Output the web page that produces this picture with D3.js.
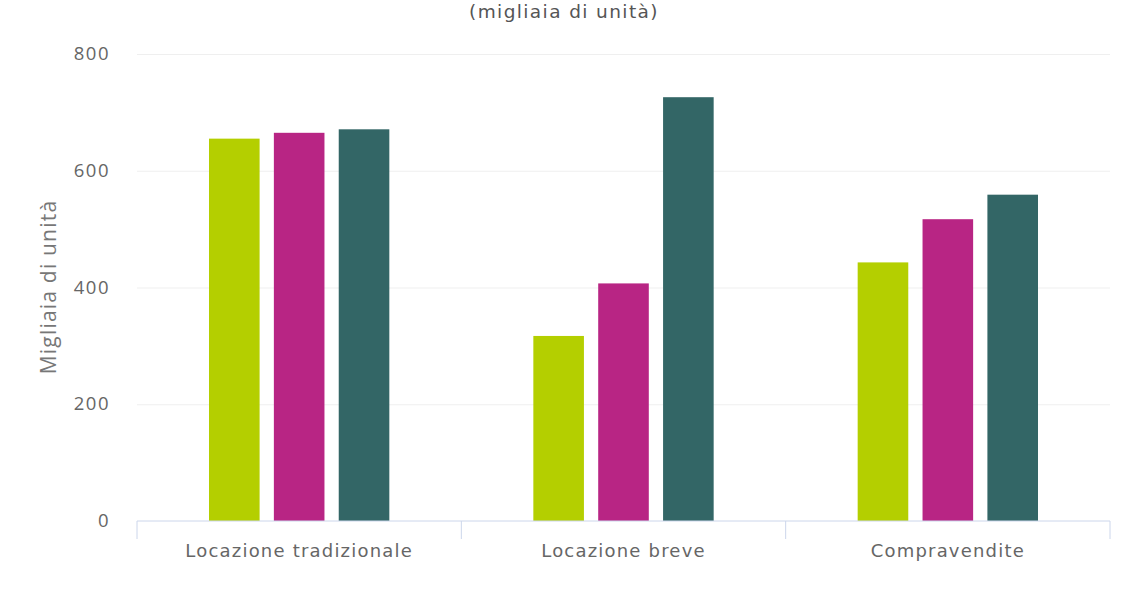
<!DOCTYPE html>
<html>
<head>
<meta charset="utf-8">
<script src="https://cdn.jsdelivr.net/npm/d3@7"></script>
<style>
  body { margin: 0; background: #fff; }
  svg { display: block; }
</style>
</head>
<body>
<svg id="drawing_region"></svg>
<script>
// categories and series
var categories = ['Locazione tradizionale', 'Locazione breve', 'Compravendite'];
var seriesNames = ['s1', 's2', 's3'];
var seriesColors = ['#b4cf00', '#b82584', '#336666'];
var values_s1 = [655, 317, 443];
var values_s2 = [665, 407, 517];
var values_s3 = [671, 726, 559];
var yTicks = [0, 200, 400, 600, 800];

var config = {
  parent: '#drawing_region',
  width: 1128,
  height: 591,
  margin: {top:54, right:18, bottom:70, left:137}
};

var data = categories.map((c, i) => ({
  label: c,
  values: [values_s1[i], values_s2[i], values_s3[i]]
}));

var svg = d3.select(config.parent)
  .attr('width', config.width)
  .attr('height', config.height);

var inner_width = config.width - config.margin.left - config.margin.right;
var inner_height = config.height - config.margin.top - config.margin.bottom;

var chart = svg.append('g')
  .attr('transform', `translate(${config.margin.left}, ${config.margin.top})`);

var yscale = d3.scaleLinear()
  .domain([0, 800])
  .range([inner_height, 0]);

var x0 = d3.scaleBand()
  .domain(categories)
  .range([0, inner_width])
  .paddingInner(0)
  .paddingOuter(0);

var x1 = d3.scaleBand()
  .domain(seriesNames)
  .range([0, x0.bandwidth()])
  .paddingInner(0.22)
  .paddingOuter(1.11);

// gridlines
chart.append('g')
  .call(d3.axisLeft(yscale).tickValues(yTicks.slice(1)).tickSize(-inner_width).tickFormat(''))
  .call(g => g.select('.domain').remove())
  .selectAll('line')
  .attr('stroke', '#efefef');

// y tick labels
chart.append('g')
  .call(d3.axisLeft(yscale).tickValues(yTicks).tickSize(0).tickPadding(27))
  .call(g => g.select('.domain').remove())
  .selectAll('text')
  .attr('fill', '#666')
  .attr('font-family', 'Open Sans')
  .attr('font-size', 18.5)
  .attr('letter-spacing', 1.5)
  .attr('dy', '0.3em');

// bars
var groups = chart.selectAll('.group')
  .data(data)
  .join('g')
  .attr('class', 'group')
  .attr('transform', d => `translate(${x0(d.label)}, 0)`);

groups.selectAll('rect')
  .data(d => d.values.map((v, i) => ({key: seriesNames[i], value: v, color: seriesColors[i]})))
  .join('rect')
  .attr('x', d => x1(d.key))
  .attr('y', d => yscale(d.value))
  .attr('width', x1.bandwidth())
  .attr('height', d => inner_height - yscale(d.value))
  .attr('fill', d => d.color);

// x axis, ticks on category boundaries
var xaxis_group = chart.append('g')
  .attr('transform', `translate(0, ${inner_height})`);

xaxis_group.append('line')
  .attr('x1', 0).attr('x2', inner_width)
  .attr('stroke', '#ccd6eb');

var bounds = categories.map(c => x0(c)).concat([inner_width]);
xaxis_group.selectAll('.tick')
  .data(bounds)
  .join('line')
  .attr('class', 'tick')
  .attr('x1', d => d).attr('x2', d => d)
  .attr('y1', 0).attr('y2', 18)
  .attr('stroke', '#ccd6eb');

xaxis_group.selectAll('.label')
  .data(categories)
  .join('text')
  .attr('class', 'label')
  .attr('x', d => x0(d) + x0.bandwidth() / 2)
  .attr('y', 36)
  .attr('text-anchor', 'middle')
  .attr('fill', '#666')
  .attr('font-family', 'DejaVu Sans')
  .attr('font-size', 18)
  .attr('letter-spacing', 1.2)
  .text(d => d);

// y axis title
svg.append('text')
  .attr('transform', 'translate(56, 287) rotate(-90)')
  .attr('text-anchor', 'middle')
  .attr('fill', '#777')
  .attr('font-family', 'Open Sans')
  .attr('font-size', 21)
  .attr('letter-spacing', 1.2)
  .text('Migliaia di unità');

// subtitle
svg.append('text')
  .attr('x', 564)
  .attr('y', 18)
  .attr('text-anchor', 'middle')
  .attr('fill', '#555')
  .attr('font-family', 'DejaVu Sans')
  .attr('font-size', 18.5)
  .attr('letter-spacing', 1.4)
  .text('(migliaia di unità)');
</script>
</body>
</html>
